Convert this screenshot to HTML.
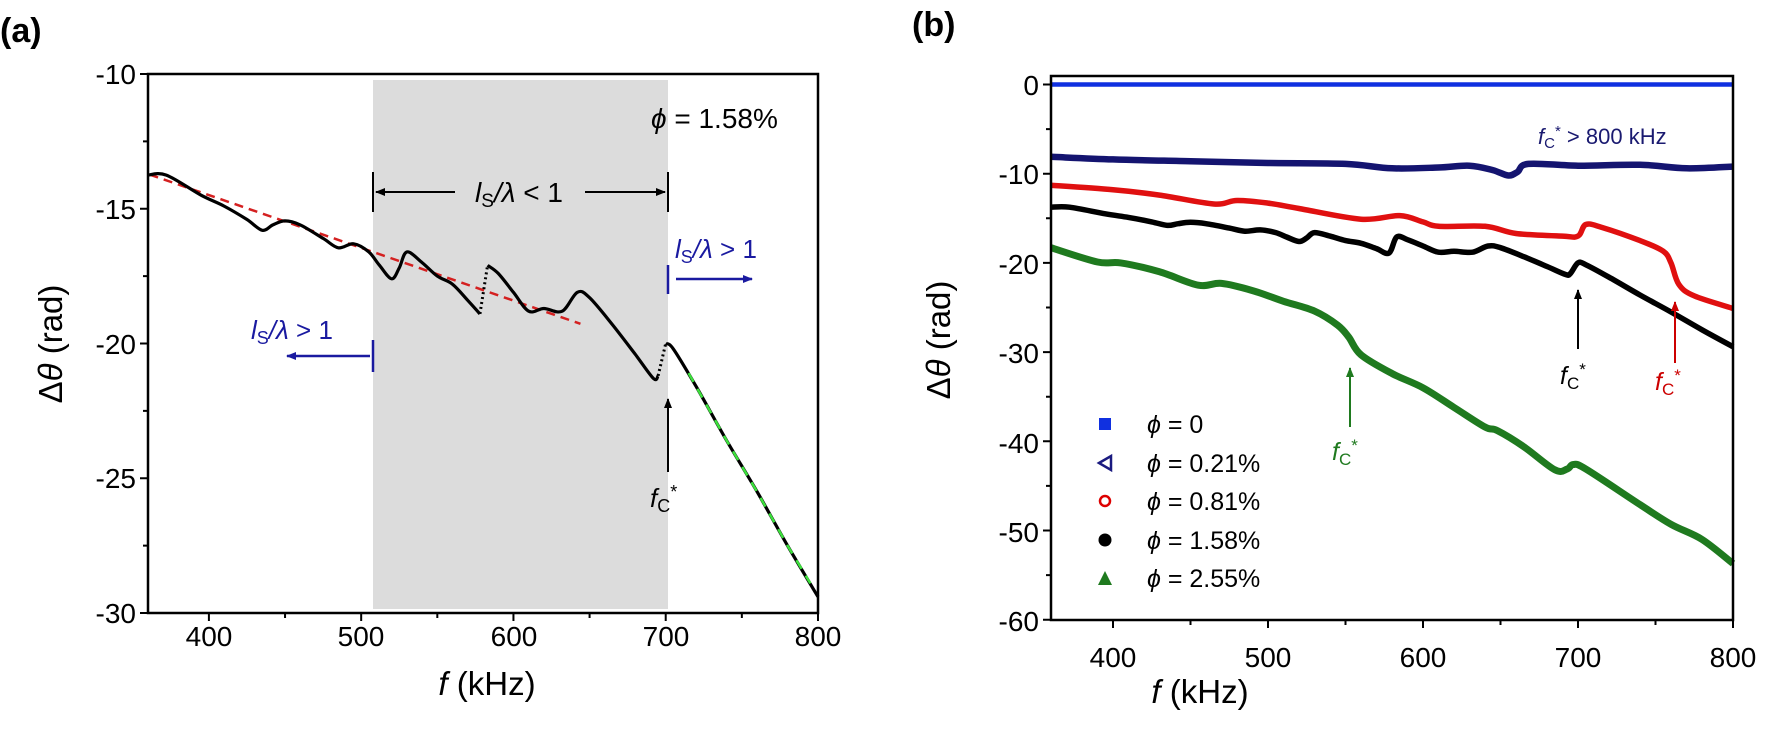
<!DOCTYPE html>
<html><head><meta charset="utf-8"><style>
body{margin:0;background:#fff;}
svg{display:block;font-family:"Liberation Sans",Arial,sans-serif;}
</style></head><body>
<svg id="s" width="1770" height="741" viewBox="0 0 1770 741" xmlns="http://www.w3.org/2000/svg">
<defs>
<marker id="ak" markerWidth="10" markerHeight="8" refX="9" refY="4" orient="auto" markerUnits="userSpaceOnUse"><path d="M0,0 L10,4 L0,8 z" fill="#000"/></marker>
<marker id="ab" markerWidth="10" markerHeight="8" refX="9" refY="4" orient="auto" markerUnits="userSpaceOnUse"><path d="M0,0 L10,4 L0,8 z" fill="#1a1aa0"/></marker>
<marker id="ar" markerWidth="10" markerHeight="8" refX="9" refY="4" orient="auto" markerUnits="userSpaceOnUse"><path d="M0,0 L10,4 L0,8 z" fill="#c00"/></marker>
<marker id="ag" markerWidth="10" markerHeight="8" refX="9" refY="4" orient="auto" markerUnits="userSpaceOnUse"><path d="M0,0 L10,4 L0,8 z" fill="#1f7a1f"/></marker>
</defs>
<text x="0" y="42" font-size="34" font-weight="bold">(a)</text>
<text x="912" y="36" font-size="34" font-weight="bold">(b)</text>
<!-- panel a -->
<rect x="373" y="80" width="295" height="529" fill="#dcdcdc"/>
<g id="ga"></g>
<rect x="148" y="74" width="670" height="539" fill="none" stroke="#000" stroke-width="2.5"/>
<g font-size="28" text-anchor="end">
<text x="136" y="84">-10</text><text x="136" y="219">-15</text><text x="136" y="354">-20</text><text x="136" y="488">-25</text><text x="136" y="623">-30</text>
</g>
<g font-size="28" text-anchor="middle">
<text x="209" y="646">400</text><text x="361" y="646">500</text><text x="514" y="646">600</text><text x="666" y="646">700</text><text x="818" y="646">800</text>
</g>
<text x="487" y="695" font-size="33" text-anchor="middle"><tspan font-style="italic">f</tspan> (kHz)</text>
<text transform="translate(62,344) rotate(-90)" font-size="33" text-anchor="middle">Δ<tspan font-style="italic">θ</tspan> (rad)</text>
<text x="651" y="128" font-size="28"><tspan font-style="italic">ϕ</tspan> = 1.58%</text>
<line x1="373" y1="172" x2="373" y2="212" stroke="#000" stroke-width="2"/>
<line x1="668" y1="172" x2="668" y2="212" stroke="#000" stroke-width="2"/>
<line x1="455" y1="192" x2="376" y2="192" stroke="#000" stroke-width="2" marker-end="url(#ak)"/>
<line x1="585" y1="192" x2="665" y2="192" stroke="#000" stroke-width="2" marker-end="url(#ak)"/>
<text x="519" y="202" font-size="28" text-anchor="middle"><tspan font-style="italic">l</tspan><tspan font-size="19" dy="5">S</tspan><tspan dy="-5" font-style="italic">/λ</tspan> &lt; 1</text>
<text x="675" y="258" font-size="26" fill="#1a1aa0"><tspan font-style="italic">l</tspan><tspan font-size="18" dy="5">S</tspan><tspan dy="-5" font-style="italic">/λ</tspan> &gt; 1</text>
<line x1="668" y1="265" x2="668" y2="294" stroke="#1a1aa0" stroke-width="2.5"/>
<line x1="676" y1="279" x2="752" y2="279" stroke="#1a1aa0" stroke-width="2.5" marker-end="url(#ab)"/>
<text x="251" y="339" font-size="26" fill="#1a1aa0"><tspan font-style="italic">l</tspan><tspan font-size="18" dy="5">S</tspan><tspan dy="-5" font-style="italic">/λ</tspan> &gt; 1</text>
<line x1="373" y1="340" x2="373" y2="372" stroke="#1a1aa0" stroke-width="2.5"/>
<line x1="370" y1="356" x2="287" y2="356" stroke="#1a1aa0" stroke-width="2.5" marker-end="url(#ab)"/>
<line x1="668" y1="472" x2="668" y2="399" stroke="#000" stroke-width="2" marker-end="url(#ak)"/>
<text x="650" y="507" font-size="26"><tspan font-style="italic">f</tspan><tspan font-size="18" dy="5">C</tspan><tspan dy="-14" font-size="18">*</tspan></text>
<!-- panel b -->
<g id="gb"></g>
<rect x="1051" y="76" width="682" height="544" fill="none" stroke="#000" stroke-width="2.5"/>
<g font-size="28" text-anchor="end">
<text x="1039" y="95">0</text><text x="1039" y="184">-10</text><text x="1039" y="274">-20</text><text x="1039" y="363">-30</text><text x="1039" y="453">-40</text><text x="1039" y="542">-50</text><text x="1039" y="631">-60</text>
</g>
<g font-size="28" text-anchor="middle">
<text x="1113" y="667">400</text><text x="1268" y="667">500</text><text x="1423" y="667">600</text><text x="1578" y="667">700</text><text x="1733" y="667">800</text>
</g>
<text x="1200" y="703" font-size="33" text-anchor="middle"><tspan font-style="italic">f</tspan> (kHz)</text>
<text transform="translate(950,340) rotate(-90)" font-size="33" text-anchor="middle">Δ<tspan font-style="italic">θ</tspan> (rad)</text>
<text x="1538" y="144" font-size="22" fill="#1a1a70"><tspan font-style="italic">f</tspan><tspan font-size="15" dy="4">C</tspan><tspan dy="-12" font-size="15">*</tspan><tspan dy="8"> &gt; 800 kHz</tspan></text>
<line x1="1578" y1="349" x2="1578" y2="290" stroke="#000" stroke-width="2" marker-end="url(#ak)"/>
<text x="1560" y="384" font-size="25"><tspan font-style="italic">f</tspan><tspan font-size="17" dy="5">C</tspan><tspan dy="-14" font-size="17">*</tspan></text>
<line x1="1675" y1="363" x2="1675" y2="302" stroke="#c00" stroke-width="2" marker-end="url(#ar)"/>
<text x="1655" y="390" font-size="25" fill="#c00"><tspan font-style="italic">f</tspan><tspan font-size="17" dy="5">C</tspan><tspan dy="-14" font-size="17">*</tspan></text>
<line x1="1350" y1="427" x2="1350" y2="368" stroke="#1f7a1f" stroke-width="2" marker-end="url(#ag)"/>
<text x="1332" y="460" font-size="25" fill="#1f7a1f"><tspan font-style="italic">f</tspan><tspan font-size="17" dy="5">C</tspan><tspan dy="-14" font-size="17">*</tspan></text>
<g font-size="25">
<rect x="1099" y="418" width="12" height="12" fill="#1030e0"/><text x="1147" y="433"><tspan font-style="italic">ϕ</tspan> = 0</text>
<path d="M1099,463 L1111,456 L1111,470 z" fill="none" stroke="#1a1a80" stroke-width="2.5"/><text x="1147" y="472"><tspan font-style="italic">ϕ</tspan> = 0.21%</text>
<circle cx="1105" cy="501" r="5" fill="none" stroke="#d00" stroke-width="2.5"/><text x="1147" y="510"><tspan font-style="italic">ϕ</tspan> = 0.81%</text>
<circle cx="1105" cy="540" r="6.5" fill="#000"/><text x="1147" y="549"><tspan font-style="italic">ϕ</tspan> = 1.58%</text>
<path d="M1098,585 L1105,571 L1112,585 z" fill="#1f7a1f"/><text x="1147" y="587"><tspan font-style="italic">ϕ</tspan> = 2.55%</text>
</g>
</svg>
<script>
const NS="http://www.w3.org/2000/svg";
function el(p,t,a){const e=document.createElementNS(NS,t);for(const k in a)e.setAttribute(k,a[k]);p.appendChild(e);return e;}
function smooth(pts){let d="M"+pts[0][0].toFixed(1)+","+pts[0][1].toFixed(1);
for(let i=0;i<pts.length-1;i++){const p0=pts[Math.max(0,i-1)],p1=pts[i],p2=pts[i+1],p3=pts[Math.min(pts.length-1,i+2)];
const c1=[p1[0]+(p2[0]-p0[0])/6,p1[1]+(p2[1]-p0[1])/6],c2=[p2[0]-(p3[0]-p1[0])/6,p2[1]-(p3[1]-p1[1])/6];
d+=" C"+c1[0].toFixed(1)+","+c1[1].toFixed(1)+" "+c2[0].toFixed(1)+","+c2[1].toFixed(1)+" "+p2[0].toFixed(1)+","+p2[1].toFixed(1);}return d;}
const Xa=f=>148+(f-360)*1.5227, Ya=r=>74+(-10-r)*26.95;
const Xb=f=>1051+(f-360)*1.55, Yb=r=>84.5+(-r)*8.92;
const blk1=[[360,-13.75],[372,-13.75],[395,-14.5],[410,-14.9],[425,-15.4],[435,-15.8],[442,-15.6],[450,-15.45],[460,-15.6],[475,-16.1],[485,-16.45],[495,-16.3],[505,-16.6],[512,-17.1],[520,-17.6],[525,-17.2],[530,-16.6],[540,-17.0],[550,-17.5],[560,-17.8],[570,-18.4],[578,-18.9]];
const blk2=[[583,-17.1],[590,-17.4],[600,-18.1],[610,-18.8],[620,-18.7],[632,-18.8],[642,-18.1],[650,-18.3],[665,-19.3],[680,-20.4],[692,-21.3],[695,-21.2]];
const blk3=[[700,-20.0],[705,-20.2],[720,-21.6],[740,-23.6],[760,-25.5],[780,-27.5],[800,-29.4]];
const ga=document.getElementById("ga"), gb=document.getElementById("gb");
const m=(a,X,Y)=>a.map(p=>[X(p[0]),Y(p[1])]);
el(ga,"path",{d:"M"+Xa(361)+","+Ya(-13.73)+" L"+Xa(644)+","+Ya(-19.27),stroke:"#d42020","stroke-width":2.5,"stroke-dasharray":"9,6",fill:"none"});
[blk1,blk2,blk3].forEach(b=>el(ga,"path",{d:smooth(m(b,Xa,Ya)),stroke:"#000","stroke-width":3.2,fill:"none"}));
el(ga,"path",{d:"M"+Xa(578)+","+Ya(-18.9)+" L"+Xa(583)+","+Ya(-17.1)+" M"+Xa(695)+","+Ya(-21.2)+" L"+Xa(700)+","+Ya(-20),stroke:"#000","stroke-width":3,"stroke-dasharray":"2,3",fill:"none"});
el(ga,"path",{d:"M"+Xa(715)+","+Ya(-21.1)+" L"+Xa(740)+","+Ya(-23.6)+" L"+Xa(760)+","+Ya(-25.5)+" L"+Xa(780)+","+Ya(-27.5)+" L"+Xa(795)+","+Ya(-28.9),stroke:"#3ce03c","stroke-width":2.5,"stroke-dasharray":"10,8",fill:"none"});
let t="";
for(let f=400;f<=800;f+=50){const x=Xa(f);t+="M"+x+",613 v"+(f%100?5:8);}
for(let r=-30;r<=-10;r+=2.5){const y=Ya(r);t+="M148,"+y+" h"+(r%5?-5:-8);}
el(ga,"path",{d:t,stroke:"#000","stroke-width":2,fill:"none"});
const navy=[[360,-8.1],[400,-8.4],[450,-8.6],[500,-8.8],[550,-8.9],[580,-9.4],[610,-9.3],[630,-9.1],[645,-9.6],[655,-10.2],[661,-9.8],[668,-8.9],[700,-9.1],[740,-9.0],[770,-9.4],[800,-9.2]];
const red=[[360,-11.3],[400,-11.8],[430,-12.4],[465,-13.4],[480,-13.0],[500,-13.3],[520,-13.9],[560,-15.1],[585,-14.7],[600,-15.4],[610,-15.9],[640,-15.9],[660,-16.7],[690,-17.0],[700,-17.0],[705,-15.7],[715,-16.0],[740,-17.5],[755,-18.7],[760,-20.0],[765,-22.4],[775,-23.7],[800,-25.1]];
const green=[[360,-18.3],[390,-19.9],[405,-20.0],[430,-21.0],[455,-22.5],[470,-22.3],[490,-23.1],[510,-24.3],[530,-25.4],[545,-27.0],[552,-28.3],[560,-30.3],[580,-32.4],[600,-34.0],[620,-36.2],[640,-38.4],[648,-38.8],[665,-40.6],[685,-43.2],[693,-43.1],[697,-42.6],[705,-43.1],[740,-47.1],[760,-49.3],[780,-51.0],[800,-53.7]];
const black=blk1.concat(blk2,blk3);
t="";
for(let f=400;f<=800;f+=50){const x=Xb(f);t+="M"+x+",620 v"+(f%100?5:8);}
for(let r=-60;r<=0;r+=5){const y=Yb(r);t+="M1051,"+y+" h"+(r%10?-5:-8);}
el(gb,"path",{d:t,stroke:"#000","stroke-width":2,fill:"none"});
el(gb,"path",{d:"M1051,"+Yb(0)+" L1733,"+Yb(0),stroke:"#1030e0","stroke-width":4.5,fill:"none"});
el(gb,"path",{d:smooth(m(navy,Xb,Yb)),stroke:"#141470","stroke-width":6.5,fill:"none"});
el(gb,"path",{d:smooth(m(red,Xb,Yb)),stroke:"#e01010","stroke-width":5.5,fill:"none"});
el(gb,"path",{d:smooth(m(black,Xb,Yb)),stroke:"#000","stroke-width":5.5,fill:"none"});
el(gb,"path",{d:smooth(m(green,Xb,Yb)),stroke:"#1f7a1f","stroke-width":7,fill:"none"});
</script>
</body></html>
